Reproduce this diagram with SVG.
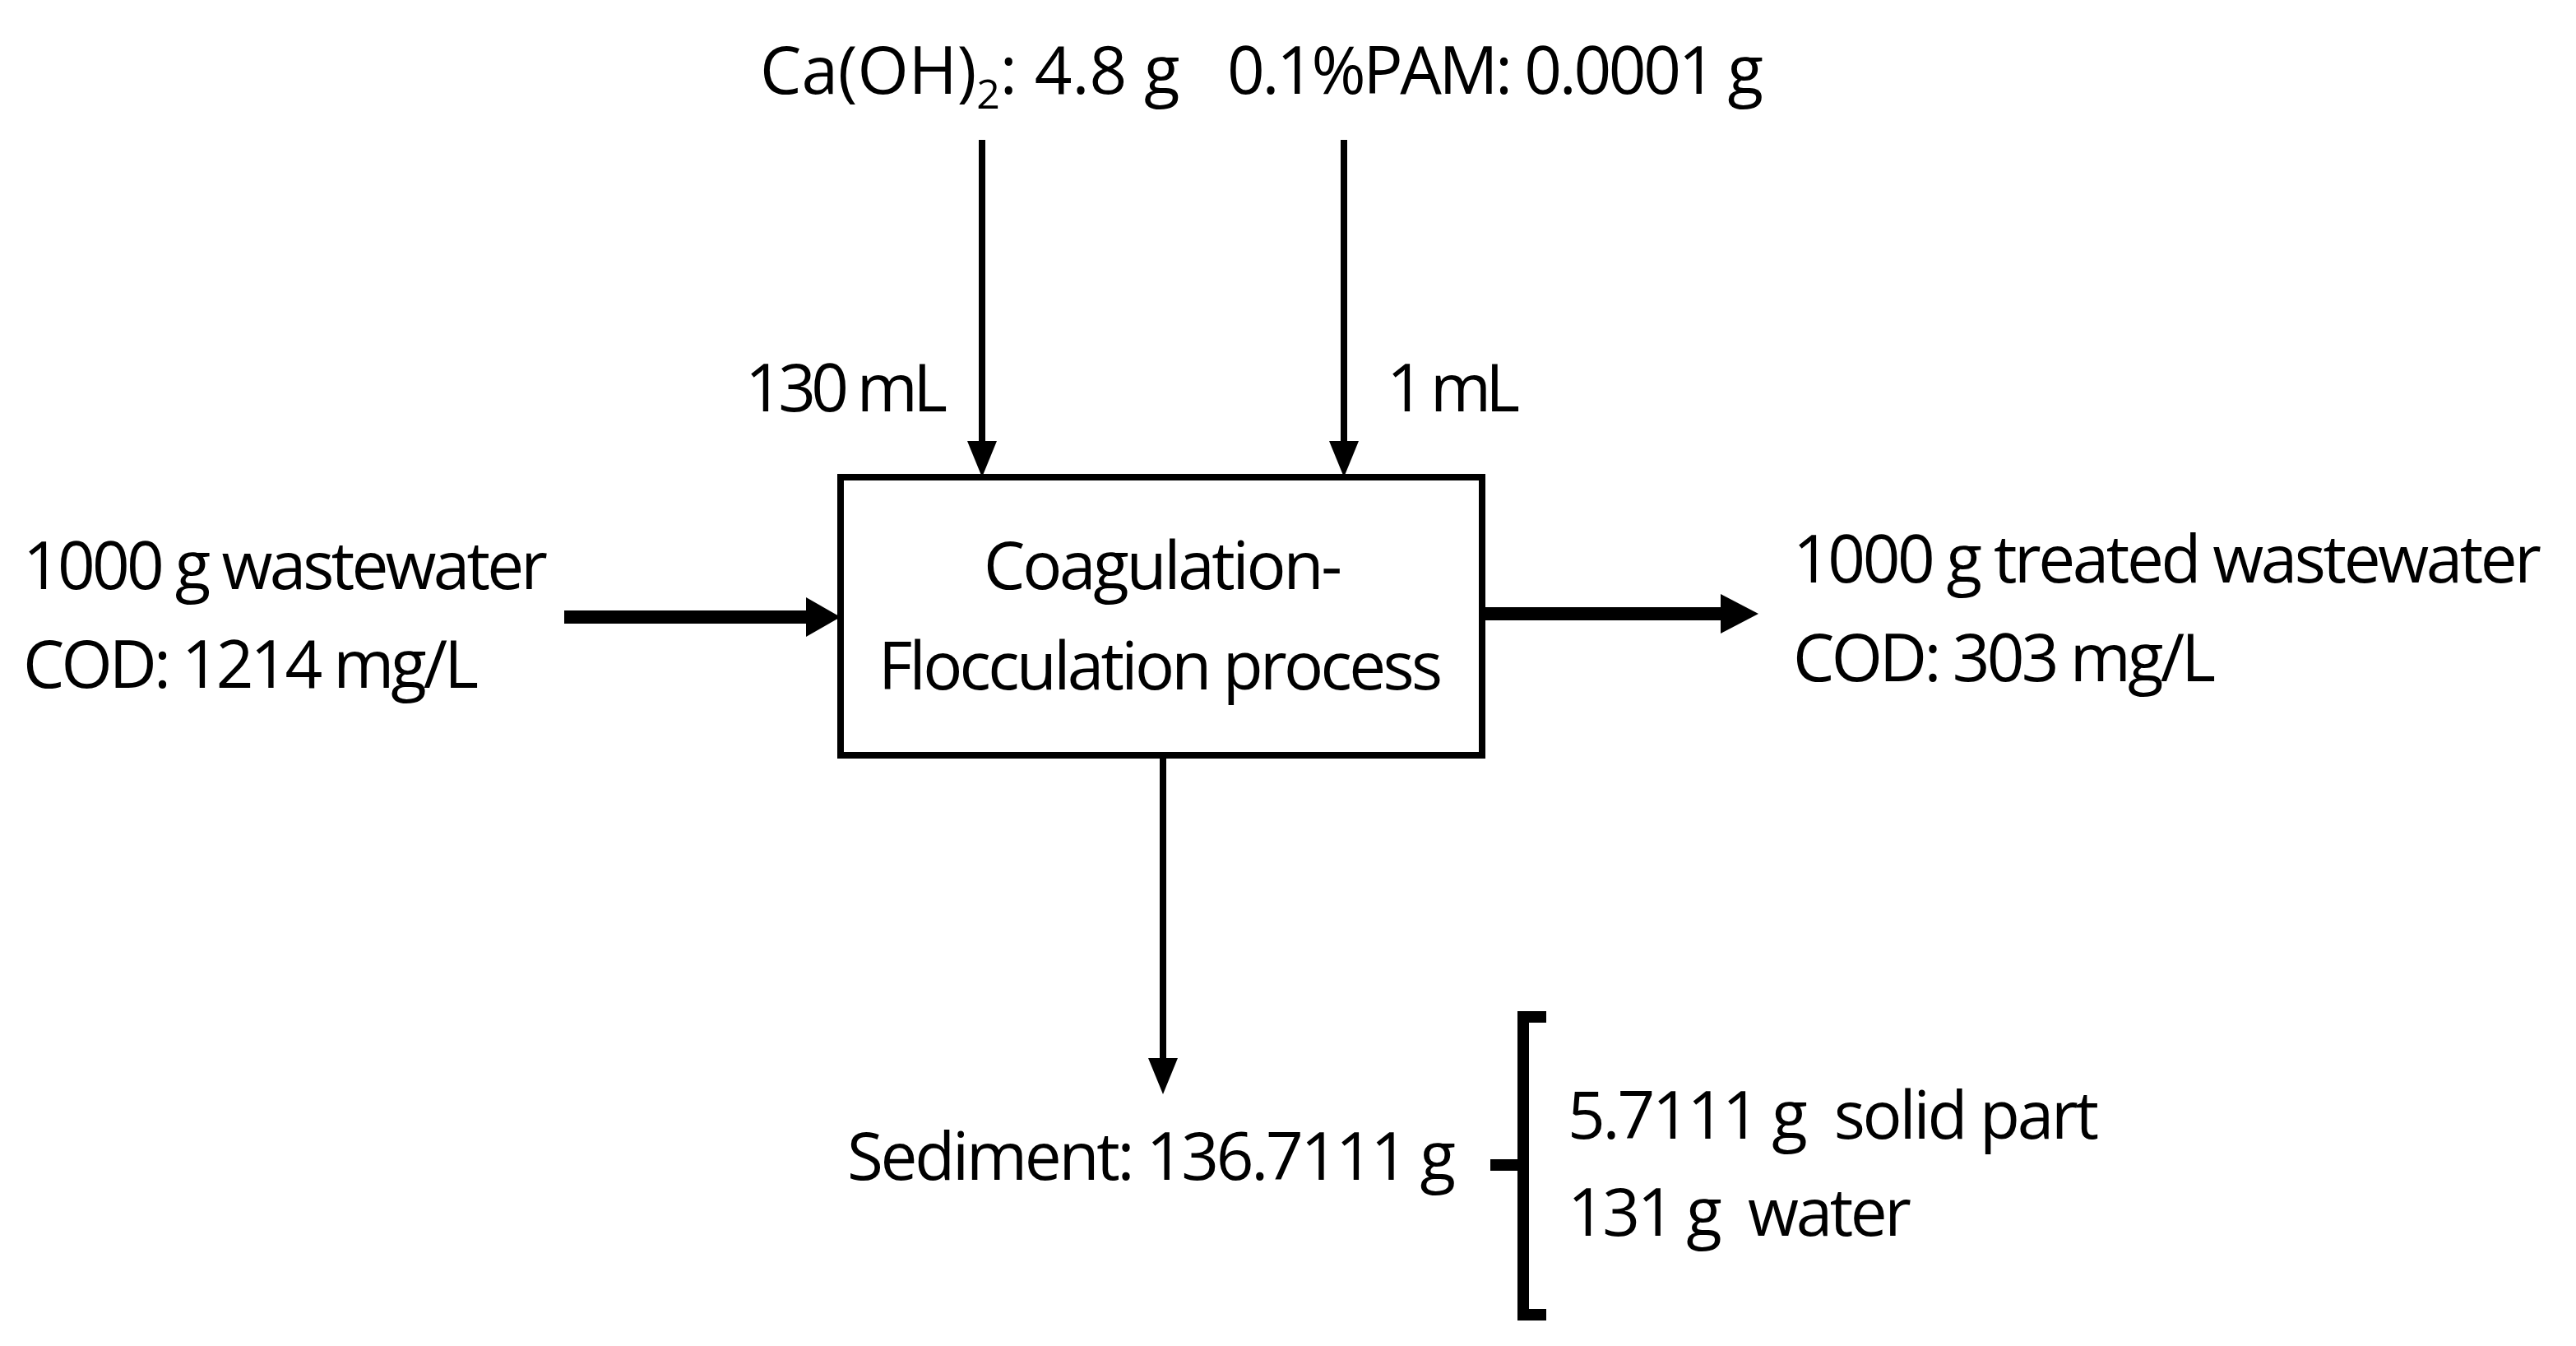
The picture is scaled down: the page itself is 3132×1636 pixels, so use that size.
<svg xmlns="http://www.w3.org/2000/svg" width="3132" height="1636" viewBox="0 0 3132 1636">
<style>
text{font-family:"Open Sans","Liberation Sans",sans-serif;font-size:80px;fill:#000}
.c{stroke:#000;fill:none}
.h{fill:#000}
</style>
<rect width="3132" height="1636" fill="#fff"/>
<g id="connectors">
<line class="c" x1="1194" y1="170" x2="1194" y2="540" stroke-width="8"/>
<polygon class="h" points="1176,536 1212,536 1194,580"/>
<line class="c" x1="1634" y1="170" x2="1634" y2="540" stroke-width="8"/>
<polygon class="h" points="1616,536 1652,536 1634,580"/>
<line class="c" x1="1414" y1="918" x2="1414" y2="1290" stroke-width="8"/>
<polygon class="h" points="1396,1286 1432,1286 1414,1330"/>
<line class="c" x1="686" y1="750" x2="984" y2="750" stroke-width="16"/>
<polygon class="h" points="980,726 980,774 1022,750"/>
<line class="c" x1="1806" y1="746" x2="2096" y2="746" stroke-width="16"/>
<polygon class="h" points="2092,722 2092,770 2138,746"/>
</g>
<g id="process">
<rect x="1022" y="580" width="780" height="338" fill="#fff" stroke="#000" stroke-width="8"/>
<text x="1196" y="716" textLength="436">Coagulation-</text>
<text x="1068" y="838" textLength="686">Flocculation process</text>
</g>
<g id="caoh"><text x="924" y="114" font-size="76">Ca(OH)<tspan font-size="50" dy="18">2</tspan><tspan dy="-18">: 4.8 g</tspan></text></g>
<g id="pam"><text x="1492" y="114" textLength="652">0.1%PAM: 0.0001 g</text></g>
<g id="l130"><text x="906" y="500" textLength="246">130 mL</text></g>
<g id="l1"><text x="1686" y="500" textLength="162">1 mL</text></g>
<g id="input"><text x="28" y="716" textLength="638">1000 g wastewater</text><text x="28" y="836" textLength="554">COD: 1214 mg/L</text></g>
<g id="output"><text x="2180" y="708" textLength="910">1000 g treated wastewater</text><text x="2180" y="828" textLength="514">COD: 303 mg/L</text></g>
<g id="sediment"><text x="1030" y="1434" textLength="740">Sediment: 136.7111 g</text></g>
<g id="bracket">
<path d="M1880,1236H1852V1598H1880M1812,1416H1852" class="c" stroke-width="14"/>
<text x="1906" y="1384" textLength="646" xml:space="preserve">5.7111 g  solid part</text>
<text x="1906" y="1502" textLength="418" xml:space="preserve">131 g  water</text>
</g>
</svg>
